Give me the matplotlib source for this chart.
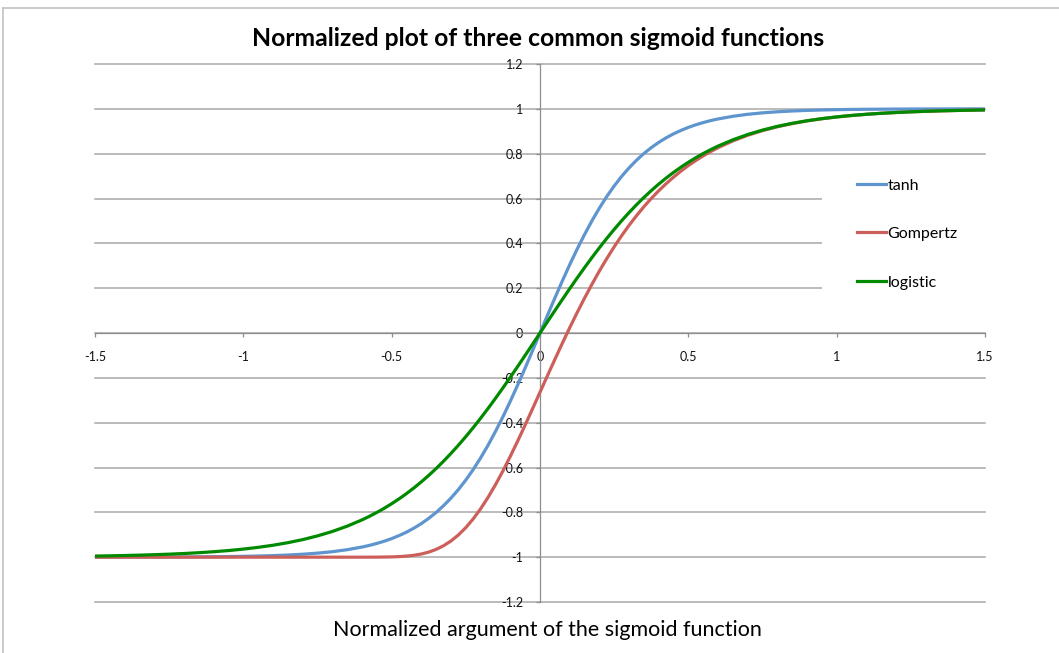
import numpy as np
import matplotlib.pyplot as plt
from matplotlib.lines import Line2D
from matplotlib.patches import Rectangle

plt.rcParams['font.family'] = ['Lato', 'DejaVu Sans']

# sample points: every 0.05 in the flat tails,
# every 0.025 in the steep middle part (-0.575 .. 0.575)
x_vals = np.concatenate([
    np.linspace(-1.5, -0.6, 19),
    np.linspace(-0.575, 0.575, 47),
    np.linspace(0.6, 1.5, 19),
])

tanh_vals = [
    -0.9998, -0.9998, -0.9997, -0.9996, -0.9994, -0.9992, -0.9989, -0.9985, -0.9980, -0.9973,
    -0.9963, -0.9949, -0.9930, -0.9904, -0.9869, -0.9821, -0.9756, -0.9667, -0.9548,
    -0.9475, -0.9387, -0.9288, -0.9172, -0.9037, -0.8884, -0.8705, -0.8502, -0.8268, -0.8005,
    -0.7702, -0.7363, -0.6984, -0.6558, -0.6088, -0.5569, -0.5004, -0.4390, -0.3737, -0.3042,
    -0.2313, -0.1558, -0.0784,
    0.0,
    0.0784, 0.1558, 0.2313, 0.3042, 0.3737, 0.4390, 0.5004, 0.5569, 0.6088, 0.6558,
    0.6984, 0.7363, 0.7702, 0.8005, 0.8268, 0.8502, 0.8705, 0.8884, 0.9037, 0.9172,
    0.9288, 0.9387, 0.9475,
    0.9548, 0.9667, 0.9756, 0.9821, 0.9869, 0.9904, 0.9930, 0.9949, 0.9963, 0.9973,
    0.9980, 0.9985, 0.9989, 0.9992, 0.9994, 0.9996, 0.9997, 0.9998, 0.9998,
]

gompertz_vals = [
    -1.0, -1.0, -1.0, -1.0, -1.0, -1.0, -1.0, -1.0, -1.0, -1.0,
    -1.0, -1.0, -1.0, -1.0, -1.0, -1.0, -1.0, -1.0, -1.0,
    -0.9999, -0.9998, -0.9994, -0.9988, -0.9975, -0.9953, -0.9916, -0.9859, -0.9774, -0.9653,
    -0.9490, -0.9277, -0.9008, -0.8680, -0.8290, -0.7840, -0.7330, -0.6766, -0.6154, -0.5499,
    -0.4814, -0.4103, -0.3377,
    -0.2642,
    -0.1907, -0.1180, -0.0465, 0.0232, 0.0905, 0.1552, 0.2172, 0.2762, 0.3318, 0.3844,
    0.4337, 0.4800, 0.5229, 0.5630, 0.6000, 0.6344, 0.6660, 0.6952, 0.7221, 0.7469,
    0.7694, 0.7902, 0.8091,
    0.8266, 0.8568, 0.8820, 0.9029, 0.9200, 0.9343, 0.9461, 0.9557, 0.9637, 0.9702,
    0.9756, 0.9800, 0.9836, 0.9866, 0.9890, 0.9910, 0.9926, 0.9940, 0.9950,
]

logistic_vals = [
    -0.9951, -0.9940, -0.9926, -0.9910, -0.9890, -0.9866, -0.9837, -0.9801, -0.9757, -0.9705,
    -0.9640, -0.9562, -0.9468, -0.9354, -0.9217, -0.9051, -0.8854, -0.8617, -0.8337,
    -0.8178, -0.8005, -0.7818, -0.7616, -0.7398, -0.7163, -0.6911, -0.6640, -0.6351, -0.6044,
    -0.5717, -0.5370, -0.5005, -0.4621, -0.4219, -0.3799, -0.3364, -0.2913, -0.2449, -0.1974,
    -0.1489, -0.0997, -0.0500,
    0.0,
    0.0500, 0.0997, 0.1489, 0.1974, 0.2449, 0.2913, 0.3364, 0.3799, 0.4219, 0.4621,
    0.5005, 0.5370, 0.5717, 0.6044, 0.6351, 0.6640, 0.6911, 0.7163, 0.7398, 0.7616,
    0.7818, 0.8005, 0.8178,
    0.8337, 0.8617, 0.8854, 0.9051, 0.9217, 0.9354, 0.9468, 0.9562, 0.9640, 0.9705,
    0.9757, 0.9801, 0.9837, 0.9866, 0.9890, 0.9910, 0.9926, 0.9940, 0.9951,
]

series_names = ['tanh', 'Gompertz', 'logistic']
series_colors = ['#5E95CF', '#CD5F5A', '#008A00']

x_ticks = [-1.5, -1, -0.5, 0, 0.5, 1, 1.5]
x_tick_labels = ['-1.5', '-1', '-0.5', '0', '0.5', '1', '1.5']
y_ticks = [-1.2, -1, -0.8, -0.6, -0.4, -0.2, 0, 0.2, 0.4, 0.6, 0.8, 1, 1.2]
y_tick_labels = ['-1.2', '-1', '-0.8', '-0.6', '-0.4', '-0.2', '0',
                 '0.2', '0.4', '0.6', '0.8', '1', '1.2']

W, H = 1059, 653


def px_rect(x0, y0, x1, y1):
    # pixel box (top-left origin) -> figure fraction [left, bottom, width, height]
    return [x0 / W, 1 - y1 / H, (x1 - x0) / W, (y1 - y0) / H]


def main():
    fig = plt.figure(figsize=(W / 100, H / 100), dpi=100)
    ax = fig.add_axes(px_rect(95, 64, 985, 602))

    axis_grey = '#8E8E8E'
    grid_grey = '#A8A8A8'

    ax.set_xlim(-1.5, 1.5)
    ax.set_ylim(-1.2, 1.2)
    ax.set_axisbelow(True)

    ax.spines['top'].set_visible(False)
    ax.spines['right'].set_visible(False)
    ax.spines['left'].set_position(('data', 0))
    ax.spines['bottom'].set_position(('data', 0))
    for s in ['left', 'bottom']:
        ax.spines[s].set_color(axis_grey)
        ax.spines[s].set_linewidth(0.9)

    ax.set_xticks(x_ticks)
    ax.set_xticklabels(x_tick_labels)
    ax.set_yticks(y_ticks)
    ax.set_yticklabels(y_tick_labels)
    ax.tick_params(axis='x', direction='out', length=3, width=0.9, color=axis_grey,
                   labelsize=9, pad=10, labelcolor='#111111')
    ax.tick_params(axis='y', direction='out', length=3, width=0.9, color=axis_grey,
                   labelsize=9, pad=9, labelcolor='#111111')

    ax.yaxis.grid(True, color=grid_grey, linewidth=1.1)
    ax.xaxis.grid(False)
    for gl in ax.get_ygridlines():
        gl.set_clip_on(False)

    # white legend area hides the grid behind it
    ax.add_patch(Rectangle((0.817, 0.555), 0.19, 0.27, transform=ax.transAxes,
                           facecolor='white', edgecolor='none', zorder=1, clip_on=False))

    all_vals = [tanh_vals, gompertz_vals, logistic_vals]
    for name, vals, col in zip(series_names, all_vals, series_colors):
        ax.plot(x_vals, vals, color=col, linewidth=2.3, label=name, zorder=3,
                solid_capstyle='butt', solid_joinstyle='round')

    handles = [Line2D([], [], color=c, linewidth=2.3) for c in series_colors]
    ax.legend(handles, series_names, loc='center left',
              bbox_to_anchor=(857 / W, 1 - 234 / H), bbox_transform=fig.transFigure,
              frameon=False, fontsize=11.5, handlelength=1.8, handletextpad=0.12,
              labelspacing=2.15, borderpad=0, borderaxespad=0)

    fig.text(538 / W, 1 - 38 / H, 'Normalized plot of three common sigmoid functions',
             ha='center', va='center', fontsize=17.8, fontweight='bold', color='#000000')
    fig.text(547 / W, 1 - 630 / H, 'Normalized argument of the sigmoid function',
             ha='center', va='center', fontsize=15.5, color='#000000')

    # chart-area border (left and top edges are visible)
    border = '#BDBDBD'
    fig.add_artist(Line2D([3 / W, 3 / W], [0, 1 - 8 / H], color=border, linewidth=1.1,
                          transform=fig.transFigure))
    fig.add_artist(Line2D([3 / W, 1], [1 - 8 / H, 1 - 8 / H], color=border, linewidth=1.1,
                          transform=fig.transFigure))

    fig.savefig('out.png', dpi=100)


if __name__ == "__main__":
    main()
